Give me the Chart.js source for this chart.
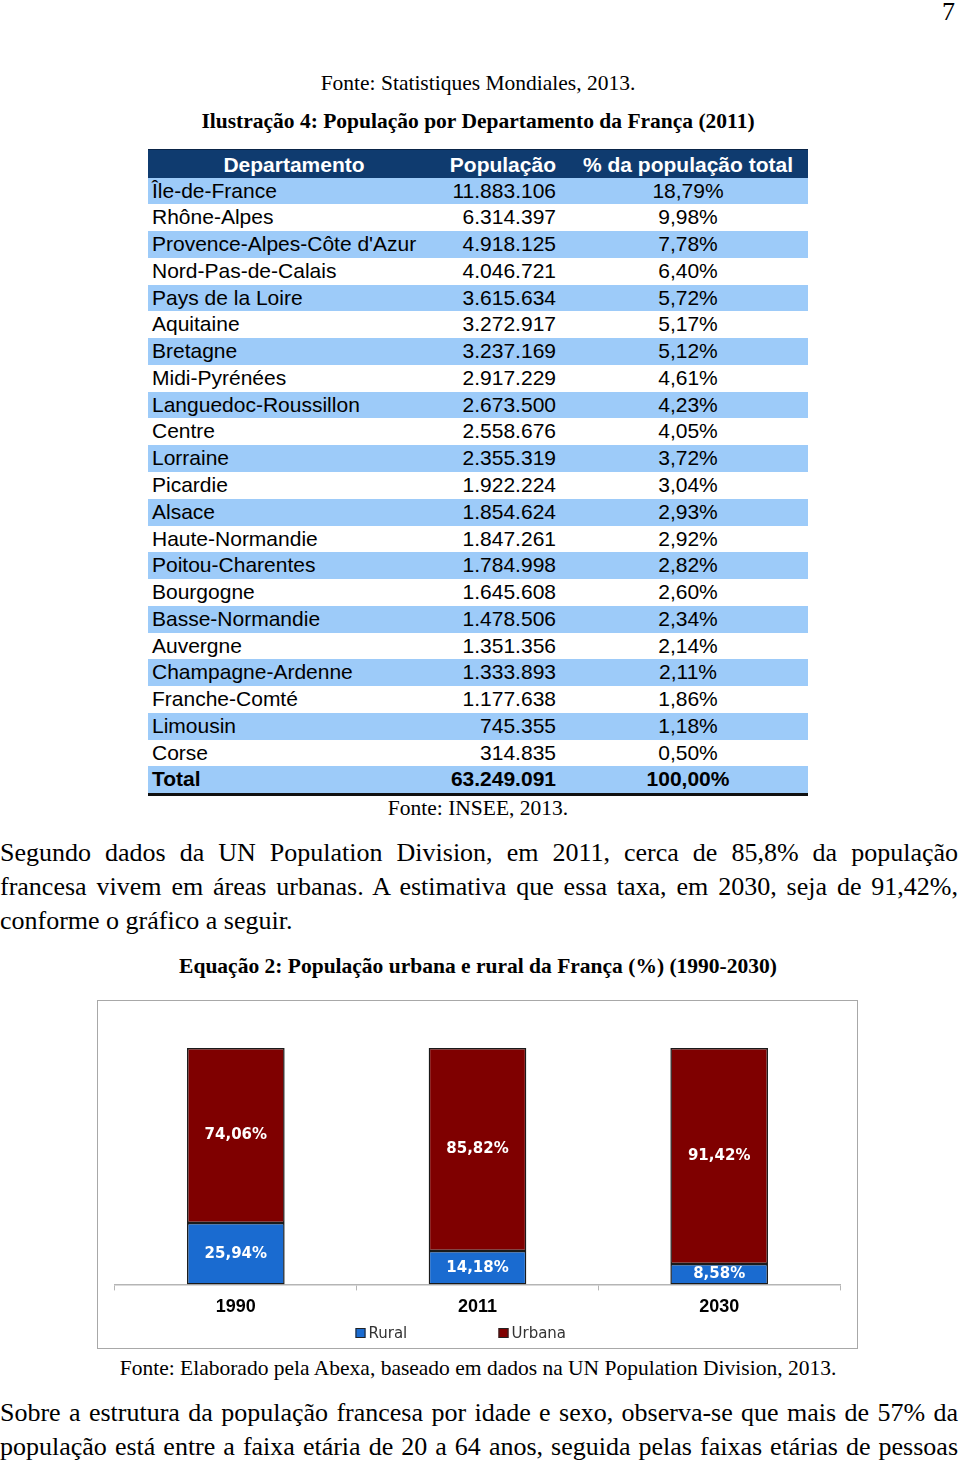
<!DOCTYPE html>
<html>
<head>
<meta charset="utf-8">
<script src="https://cdn.jsdelivr.net/npm/chart.js@4.4.1/dist/chart.umd.min.js"></script>
<style>
  body { margin: 0; background: #fff; }
  #page { position: relative; width: 960px; height: 1463px; overflow: hidden; font-family: "Liberation Serif", "Times New Roman", serif; color: #000; }
  .ln { position: absolute; left: 0; width: 958px; white-space: nowrap; }
  .cap { font-size: 21.5px; line-height: 30px; text-align: center; width: 956px; }
  .par { font-size: 26px; line-height: 34px; }
  .just { text-align: justify; text-align-last: justify; }
  #tbl { position: absolute; left: 148px; top: 149px; width: 660px; font-family: "Liberation Sans", Arial, sans-serif; font-size: 21px; }
  .row { position: absolute; left: 0; width: 660px; height: 26.8px; line-height: 26.8px; }
  .row span { position: absolute; top: 0; white-space: nowrap; }
  .c1 { left: 4px; }
  .c2 { right: 252px; }
  .c3 { left: 420px; width: 240px; text-align: center; }
  #box { position: absolute; left: 97px; top: 1000px; width: 759px; height: 347px; border: 1px solid #a8a8a8; }
  #chartWrap { position: absolute; left: 0; top: 0; width: 759px; height: 347px; }
</style>
</head>
<body>
<div id="page">
  <div class="ln par" style="top:0px; line-height:24px; text-align:right; width:955px;">7</div>
  <div class="ln cap" style="top:68px;">Fonte: Statistiques Mondiales, 2013.</div>
  <div class="ln cap" style="top:106px; font-weight:bold;">Ilustração 4: População por Departamento da França (2011)</div>

  <div id="tbl"></div>

  <div class="ln cap" style="top:793px;">Fonte: INSEE, 2013.</div>

  <div class="ln par just" style="top:836px;">Segundo dados da UN Population Division, em 2011, cerca de 85,8% da população</div>
  <div class="ln par just" style="top:870px;">francesa vivem em áreas urbanas. A estimativa que essa taxa, em 2030, seja de 91,42%,</div>
  <div class="ln par" style="top:904px;">conforme o gráfico a seguir.</div>

  <div class="ln cap" style="top:951px; font-weight:bold;">Equação 2: População urbana e rural da França (%) (1990-2030)</div>

  <div id="box"><div id="chartWrap"><canvas id="myChart"></canvas></div></div>

  <div class="ln cap" style="top:1353px;">Fonte: Elaborado pela Abexa, baseado em dados na UN Population Division, 2013.</div>

  <div class="ln par just" style="top:1396px;">Sobre a estrutura da população francesa por idade e sexo, observa-se que mais de 57% da</div>
  <div class="ln par just" style="top:1430px;">população está entre a faixa etária de 20 a 64 anos, seguida pelas faixas etárias de pessoas</div>
</div>

<script>
// table data (INSEE 2011)
const departamentos = ['Île-de-France', 'Rhône-Alpes', "Provence-Alpes-Côte d'Azur", 'Nord-Pas-de-Calais',
  'Pays de la Loire', 'Aquitaine', 'Bretagne', 'Midi-Pyrénées', 'Languedoc-Roussillon', 'Centre', 'Lorraine',
  'Picardie', 'Alsace', 'Haute-Normandie', 'Poitou-Charentes', 'Bourgogne', 'Basse-Normandie', 'Auvergne',
  'Champagne-Ardenne', 'Franche-Comté', 'Limousin', 'Corse']
const populacao = ['11.883.106', '6.314.397', '4.918.125', '4.046.721', '3.615.634', '3.272.917', '3.237.169',
  '2.917.229', '2.673.500', '2.558.676', '2.355.319', '1.922.224', '1.854.624', '1.847.261', '1.784.998',
  '1.645.608', '1.478.506', '1.351.356', '1.333.893', '1.177.638', '745.355', '314.835']
const percentual = ['18,79%', '9,98%', '7,78%', '6,40%', '5,72%', '5,17%', '5,12%', '4,61%', '4,23%', '4,05%',
  '3,72%', '3,04%', '2,93%', '2,92%', '2,82%', '2,60%', '2,34%', '2,14%', '2,11%', '1,86%', '1,18%', '0,50%']
const totalRow = ['Total', '63.249.091', '100,00%']

// chart data
const anos = ['1990', '2011', '2030']
const rural = [25.94, 14.18, 8.58]
const urbana = [74.06, 85.82, 91.42]

function addRow(cells, top, bg, extra) {
  const tbl = document.getElementById('tbl')
  const row = document.createElement('div')
  row.className = 'row'
  row.style.top = top + 'px'
  row.style.background = bg
  Object.assign(row.style, extra || {})
  cells.forEach(function (txt, k) {
    const s = document.createElement('span')
    s.className = 'c' + (k + 1)
    s.textContent = txt
    row.appendChild(s)
  })
  tbl.appendChild(row)
  return row
}

function buildTable() {
  // header
  const h = addRow(['Departamento', 'População', '% da população total'], 0, '#0f3b6f',
    { color: '#fff', fontWeight: 'bold', height: '28px', lineHeight: '29px', borderTop: '1px solid #0a2447' })
  h.children[0].style.left = '0px'
  h.children[0].style.width = '292px'
  h.children[0].style.textAlign = 'center'
  for (let i = 0; i < departamentos.length; i++) {
    addRow([departamentos[i], populacao[i], percentual[i]], 28.5 + i * 26.77, i % 2 == 0 ? '#9dcbf9' : '#fff')
  }
  addRow(totalRow, 28.5 + departamentos.length * 26.77, '#9dcbf9',
    { fontWeight: 'bold', borderBottom: '3px solid #111' })
}

function fmt(v) {
  return v.toFixed(2).replace('.', ',') + '%'
}

// white value labels in the middle of each segment
const segmentLabels = {
  id: 'segmentLabels',
  afterDatasetsDraw(chart) {
    const ctx = chart.ctx
    ctx.save()
    ctx.fillStyle = '#fff'
    ctx.font = 'bold 15px "DejaVu Sans", sans-serif'
    ctx.textAlign = 'center'
    ctx.textBaseline = 'middle'
    chart.data.datasets.forEach(function (ds, i) {
      chart.getDatasetMeta(i).data.forEach(function (bar, j) {
        ctx.fillText(fmt(ds.data[j]), bar.x, (bar.y + bar.base) / 2)
      })
    })
    ctx.restore()
  }
}

// legend drawn by hand, items spread wide like the original
const wideLegend = {
  id: 'wideLegend',
  afterDraw(chart) {
    const ctx = chart.ctx
    const cx = chart.width / 2
    const y = chart.height - 15
    const offsets = [-122, 21]
    ctx.save()
    ctx.font = '15px "DejaVu Sans", sans-serif'
    ctx.textBaseline = 'middle'
    chart.data.datasets.forEach(function (ds, i) {
      const x = cx + offsets[i]
      ctx.fillStyle = ds.backgroundColor
      ctx.fillRect(x, y - 5, 10, 10)
      ctx.strokeStyle = '#222'
      ctx.lineWidth = 1
      ctx.strokeRect(x + 0.5, y - 4.5, 9, 9)
      ctx.fillStyle = '#333'
      ctx.fillText(ds.label, x + 13, y + 1)
    })
    ctx.restore()
  }
}

function drawChart() {
  const ctx = document.getElementById('myChart').getContext('2d')
  new Chart(ctx, {
    type: 'bar',
    data: {
      labels: anos,
      datasets: [{
        label: 'Rural',
        data: rural,
        backgroundColor: '#1a6bd0',
        borderColor: '#1a1a1a',
        borderWidth: 1.5,
        borderSkipped: false
      }, {
        label: 'Urbana',
        data: urbana,
        backgroundColor: '#7f0000',
        borderColor: '#1a1a1a',
        borderWidth: 1.5,
        borderSkipped: false
      }]
    },
    options: {
      responsive: true,
      maintainAspectRatio: false,
      animation: false,
      layout: { padding: { top: 47, left: 17, right: 17, bottom: 24 } },
      datasets: { bar: { categoryPercentage: 1, barPercentage: 0.404 } },
      plugins: { legend: { display: false }, tooltip: { enabled: false } },
      scales: {
        x: {
          stacked: true,
          border: { color: '#b5b5b5', width: 1.5 },
          grid: { drawOnChartArea: false, drawTicks: true, tickLength: 6, color: '#b5b5b5' },
          ticks: { color: '#000', padding: 6, font: { family: '"Liberation Sans", Arial, sans-serif', size: 18, weight: 'bold' } }
        },
        y: { stacked: true, display: false, min: 0, max: 100 }
      }
    },
    plugins: [segmentLabels, wideLegend]
  })
}

buildTable()
drawChart()
</script>
</body>
</html>
